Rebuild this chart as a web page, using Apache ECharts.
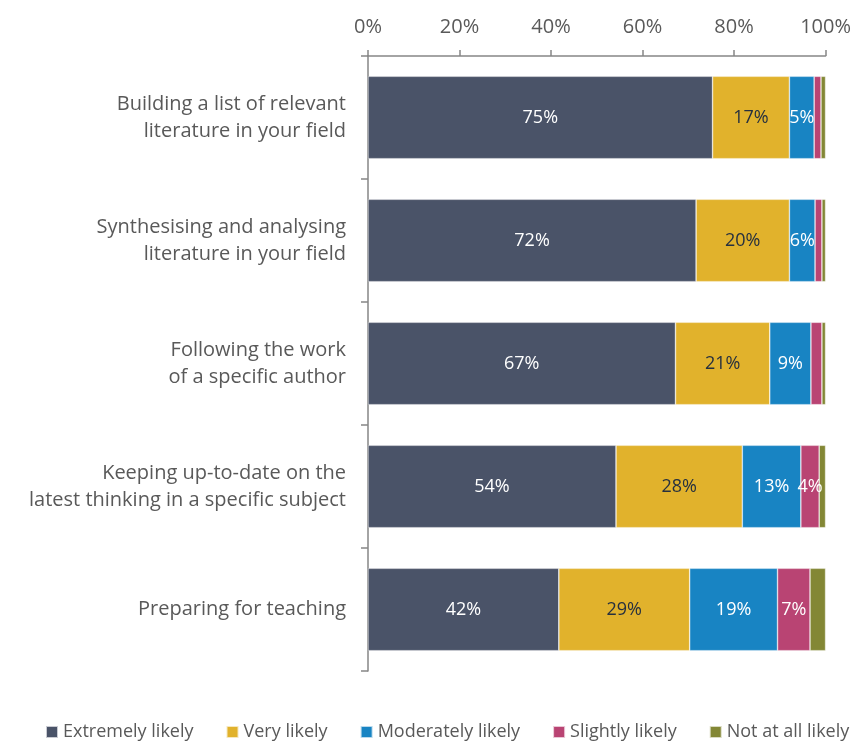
<!DOCTYPE html>
<html>
<head>
<meta charset="utf-8">
<script src="https://cdn.jsdelivr.net/npm/echarts@6/dist/echarts.min.js"></script>
<style>
  html, body { margin: 0; padding: 0; background: #fff; }
  #chart { width: 854px; height: 742px; }
</style>
</head>
<body>
<div id="chart"></div>
<script>
// categories, top to bottom
var categories = [
  'Building a list of relevant\nliterature in your field',
  'Synthesising and analysing\nliterature in your field',
  'Following the work\nof a specific author',
  'Keeping up-to-date on the\nlatest thinking in a specific subject',
  'Preparing for teaching'
];
// shares (%)
var extremely = [75.3, 71.7, 67.2, 54.2, 41.7];
var very      = [16.8, 20.4, 20.6, 27.6, 28.6];
var moderately = [5.4, 5.6, 9.0, 12.8, 19.2];
var slightly  = [1.5, 1.5, 2.4, 4.0, 7.1];
var notAtAll  = [1.0, 0.8, 0.8, 1.4, 3.4];
var seriesNames = ['Extremely likely', 'Very likely', 'Moderately likely', 'Slightly likely', 'Not at all likely'];
var colors = ['#4a5368', '#e1b22c', '#1884c3', '#b94473', '#838735'];
var labelColors = ['#fff', '#26303f', '#fff', '#fff', '#fff'];

var font = 'Open Sans';
var chart = echarts.init(document.getElementById('chart'));

function makeSeries(name, data, i) {
  return {
    name: name,
    type: 'bar',
    stack: 'total',
    data: data,
    barCategoryGap: '33%',
    itemStyle: { color: colors[i], borderColor: 'rgba(255,255,255,0.7)', borderWidth: 0.6 },
    label: {
      show: true,
      position: 'inside',
      color: labelColors[i],
      fontFamily: font,
      fontSize: 18,
      formatter: function (p) { return p.value >= 3.5 ? Math.round(p.value) + '%' : ''; }
    }
  };
}

var option = {
  animation: false,
  textStyle: { fontFamily: font },
  grid: { left: 368, right: 23, top: 56, bottom: 71 },
  legend: {
    top: 723,
    left: 45,
    width: 809,
    padding: 0,
    itemWidth: 12,
    itemHeight: 12,
    itemGap: 32,
    icon: 'rect',
    textStyle: { fontFamily: font, fontSize: 18, color: '#595959' },
    data: seriesNames
  },
  xAxis: {
    type: 'value',
    position: 'top',
    min: 0,
    max: 100,
    interval: 20,
    axisLine: { show: true, lineStyle: { color: '#868686', width: 1.5 } },
    axisTick: { show: true, length: 6, lineStyle: { color: '#868686', width: 1.5 } },
    splitLine: { show: false },
    axisLabel: { formatter: '{value}%', color: '#595959', fontSize: 20, fontFamily: font, margin: 19 }
  },
  yAxis: {
    type: 'category',
    inverse: true,
    data: categories,
    axisLine: { show: true, lineStyle: { color: '#868686', width: 1.5 } },
    axisTick: { show: true, length: 7, lineStyle: { color: '#868686', width: 1.5 } },
    axisLabel: { color: '#595959', fontSize: 20, fontFamily: font, margin: 22, align: 'right', lineHeight: 27 }
  },
  series: [
    makeSeries(seriesNames[0], extremely, 0),
    makeSeries(seriesNames[1], very, 1),
    makeSeries(seriesNames[2], moderately, 2),
    makeSeries(seriesNames[3], slightly, 3),
    makeSeries(seriesNames[4], notAtAll, 4)
  ]
};
chart.setOption(option);
</script>
</body>
</html>
